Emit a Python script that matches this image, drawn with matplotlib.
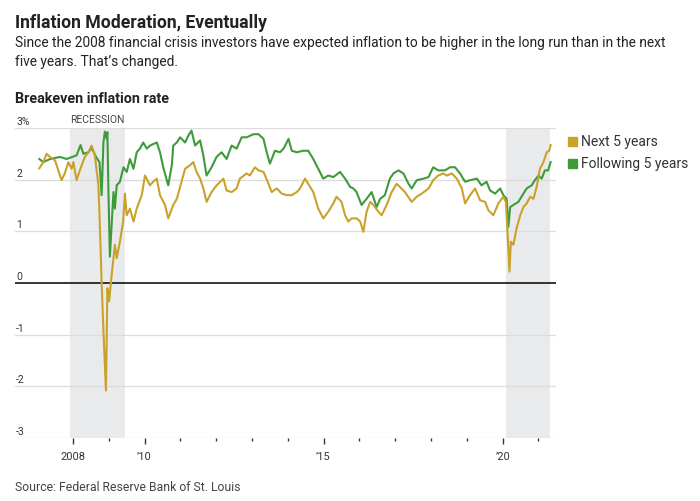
import matplotlib
matplotlib.use('Agg')
import matplotlib.pyplot as plt
import matplotlib.transforms as mtransforms

# decimal-year dates and breakeven rates
next5_dates = [2007.06, 2007.17, 2007.26, 2007.36, 2007.5, 2007.68, 2007.77, 2007.87, 2007.96, 2008.01,
               2008.10, 2008.19, 2008.33, 2008.43, 2008.52, 2008.61, 2008.71, 2008.75, 2008.80, 2008.85,
               2008.92, 2008.96, 2009.01, 2009.08, 2009.17, 2009.22, 2009.31, 2009.40, 2009.45, 2009.50,
               2009.59, 2009.69, 2009.78, 2009.92, 2010.01, 2010.15, 2010.24, 2010.34, 2010.43, 2010.57,
               2010.66, 2010.80, 2010.90, 2011.03, 2011.13, 2011.27, 2011.36, 2011.45, 2011.55, 2011.64,
               2011.73, 2011.87, 2012.01, 2012.20, 2012.29, 2012.43, 2012.57, 2012.66, 2012.85, 2012.94,
               2013.08, 2013.18, 2013.32, 2013.46, 2013.55, 2013.69, 2013.83, 2013.97, 2014.11, 2014.25,
               2014.34, 2014.48, 2014.57, 2014.71, 2014.85, 2014.99, 2015.13, 2015.27, 2015.36, 2015.50,
               2015.60, 2015.69, 2015.78, 2015.92, 2016.02, 2016.11, 2016.20, 2016.30, 2016.39, 2016.53,
               2016.62, 2016.76, 2016.90, 2017.04, 2017.13, 2017.27, 2017.46, 2017.60, 2017.74, 2017.93,
               2018.06, 2018.20, 2018.34, 2018.44, 2018.58, 2018.72, 2018.86, 2018.95, 2019.09, 2019.23,
               2019.37, 2019.51, 2019.60, 2019.74, 2019.88, 2020.02, 2020.09, 2020.16, 2020.19, 2020.23,
               2020.30, 2020.39, 2020.49, 2020.58, 2020.67, 2020.77, 2020.86, 2020.95, 2021.04, 2021.14,
               2021.23, 2021.30, 2021.34]
next5_vals = [2.22, 2.34, 2.50, 2.44, 2.37, 1.99, 2.12, 2.34, 2.21, 2.34,
              1.99, 2.18, 2.44, 2.53, 2.66, 2.47, 1.89, 1.12, 0.0, -0.93,
              -2.08, -0.10, -0.35, 0.16, 0.74, 0.48, 0.80, 1.19, 1.73, 1.31,
              1.44, 1.19, 1.44, 1.70, 2.08, 1.89, 1.96, 2.02, 1.70, 1.51,
              1.25, 1.51, 1.63, 1.96, 2.21, 2.28, 2.34, 2.15, 2.02, 1.83,
              1.57, 1.76, 1.89, 2.02, 1.79, 1.76, 1.83, 2.02, 2.12, 2.08,
              2.24, 2.18, 2.15, 1.92, 1.76, 1.83, 1.73, 1.70, 1.70, 1.76,
              1.83, 2.02, 1.92, 1.76, 1.44, 1.25, 1.38, 1.54, 1.67, 1.57,
              1.31, 1.19, 1.25, 1.25, 1.19, 0.99, 1.38, 1.57, 1.51, 1.38,
              1.31, 1.51, 1.76, 1.92, 1.86, 1.76, 1.57, 1.67, 1.73, 1.83,
              1.99, 2.08, 2.12, 2.08, 2.12, 2.02, 1.83, 1.54, 1.70, 1.83,
              1.60, 1.57, 1.41, 1.31, 1.54, 1.67, 1.57, 0.67, 0.22, 0.80,
              0.74, 1.06, 1.31, 1.47, 1.54, 1.67, 1.63, 1.86, 2.21, 2.34,
              2.53, 2.56, 2.67]

follow5_dates = [2007.06, 2007.17, 2007.36, 2007.64, 2007.82, 2008.10, 2008.21, 2008.29, 2008.43, 2008.52,
                 2008.66, 2008.74, 2008.80, 2008.85, 2008.89, 2008.94, 2008.96, 2008.99, 2009.03, 2009.13,
                 2009.17, 2009.22, 2009.31, 2009.41, 2009.50, 2009.59, 2009.69, 2009.78, 2009.87, 2009.96,
                 2010.06, 2010.15, 2010.34, 2010.43, 2010.52, 2010.66, 2010.76, 2010.80, 2010.90, 2010.99,
                 2011.13, 2011.22, 2011.31, 2011.41, 2011.55, 2011.64, 2011.73, 2011.87, 2012.01, 2012.15,
                 2012.29, 2012.43, 2012.57, 2012.71, 2012.85, 2013.04, 2013.18, 2013.32, 2013.41, 2013.50,
                 2013.64, 2013.78, 2013.88, 2014.02, 2014.11, 2014.25, 2014.43, 2014.57, 2014.71, 2014.85,
                 2014.99, 2015.13, 2015.27, 2015.46, 2015.60, 2015.74, 2015.83, 2015.92, 2016.06, 2016.20,
                 2016.34, 2016.48, 2016.58, 2016.71, 2016.85, 2016.95, 2017.09, 2017.23, 2017.37, 2017.46,
                 2017.60, 2017.79, 2017.93, 2018.06, 2018.20, 2018.39, 2018.53, 2018.67, 2018.81, 2018.95,
                 2019.09, 2019.28, 2019.41, 2019.55, 2019.65, 2019.79, 2019.93, 2020.02, 2020.11, 2020.16,
                 2020.21, 2020.30, 2020.44, 2020.58, 2020.67, 2020.81, 2020.90, 2021.00, 2021.09, 2021.18,
                 2021.27, 2021.34]
follow5_vals = [2.40, 2.34, 2.40, 2.44, 2.40, 2.47, 2.67, 2.50, 2.53, 2.61,
                2.42, 2.34, 1.70, 2.72, 2.93, 2.79, 2.92, 1.76, 0.51, 1.76,
                1.44, 1.89, 1.96, 2.24, 2.15, 2.40, 2.21, 2.53, 2.60, 2.72,
                2.60, 2.66, 2.72, 2.53, 2.24, 1.89, 2.28, 2.66, 2.72, 2.82,
                2.72, 2.85, 2.95, 2.66, 2.76, 2.47, 2.08, 2.24, 2.44, 2.53,
                2.40, 2.66, 2.60, 2.82, 2.82, 2.88, 2.88, 2.79, 2.53, 2.31,
                2.56, 2.53, 2.60, 2.79, 2.56, 2.53, 2.56, 2.56, 2.40, 2.21,
                2.02, 2.08, 2.05, 2.15, 2.02, 1.86, 1.83, 1.76, 1.51, 1.63,
                1.76, 1.47, 1.63, 1.70, 2.02, 2.12, 2.18, 2.12, 1.92, 1.83,
                1.99, 2.02, 2.05, 2.24, 2.18, 2.18, 2.24, 2.24, 2.12, 1.96,
                1.99, 2.02, 1.89, 1.96, 1.79, 1.73, 1.83, 1.70, 1.63, 1.09,
                1.47, 1.51, 1.57, 1.73, 1.83, 1.89, 1.99, 2.08, 2.02, 2.18,
                2.18, 2.34]

recessions = [(2007.92, 2009.45), (2020.08, 2021.33)]
labeled_years = [2008, 2010, 2015, 2020]
year_labels = ['2008', '\u201910', '\u201915', '\u201920']
y_ticks = [-3, -2, -1, 0, 1, 2, 3]
y_labels = ['-3', '-2', '-1', '0', '1', '2', '3%']

yellow = '#c9a22c'
green = '#3f9a3b'
plt.rcParams['font.family'] = ['Roboto', 'DejaVu Sans']

W, H = 700, 502
fig = plt.figure(figsize=(W / 100, H / 100), dpi=100)


def px(x, y):
    return x / W, 1 - y / H


left, right, top, bottom = 15, 556, 129, 439
ax = fig.add_axes([left / W, 1 - bottom / H, (right - left) / W, (bottom - top) / H])
ax.set_xlim(2006.38, 2021.49)
ax.set_ylim(-3, 3)

for a, b in recessions:
    ax.axvspan(a, b, color='#e9eaec', lw=0, zorder=0)

for v in y_ticks:
    if v == 0:
        ax.axhline(v, color='black', lw=1.1, zorder=2)
    else:
        ax.axhline(v, color='#dcdcdc', lw=0.9, zorder=1)

ax.plot(follow5_dates, follow5_vals, color=green, lw=1.5, zorder=3)
ax.plot(next5_dates, next5_vals, color=yellow, lw=1.5, zorder=4)

for spine in ax.spines.values():
    spine.set_visible(False)

ax.set_yticks([])
trans = mtransforms.blended_transform_factory(ax.transAxes, ax.transData)
for v, lab in zip(y_ticks, y_labels):
    ax.text(0.002, v + 0.04, lab, transform=trans, ha='left', va='bottom',
            fontsize=7.5, color='#333333')

ax.set_xticks(labeled_years)
ax.set_xticklabels(year_labels)
ax.set_xticks([y for y in range(2009, 2022) if y not in labeled_years], minor=True)
ax.tick_params(axis='x', which='major', length=4.5, width=1, color='#333333',
               labelsize=8, labelcolor='#333333', pad=5)
ax.tick_params(axis='x', which='minor', length=2.5, width=1, color='#333333')

ax.text(2007.92, 3.07, 'RECESSION', ha='left', va='bottom', fontsize=7.5, color='#444444')

fig.text(*px(15, 28), 'Inflation Moderation, Eventually', fontsize=12.7, fontweight='bold',
         color='#222222', va='baseline')
fig.text(*px(15, 47), 'Since the 2008 financial crisis investors have expected inflation to be higher '
         'in the long run than in the next', fontsize=9.9, color='#222222', va='baseline')
fig.text(*px(15, 66), 'five years. That\u2019s changed.', fontsize=9.9, color='#222222', va='baseline')
fig.text(*px(15, 103), 'Breakeven inflation rate', fontsize=10.4, fontweight='bold',
         color='#222222', va='baseline')
fig.text(*px(15, 491), 'Source: Federal Reserve Bank of St. Louis', fontsize=8.8,
         color='#444444', va='baseline')

# legend
for i, (lab, col) in enumerate([('Next 5 years', yellow), ('Following 5 years', green)]):
    cy = 142 + 22 * i
    fig.patches.append(plt.Rectangle(px(568, cy + 4.5), 9 / W, 9 / H, transform=fig.transFigure,
                                     color=col, figure=fig))
    fig.text(*px(581, cy), lab, fontsize=10, color='#333333', va='center')

fig.savefig('out.png', dpi=100)
